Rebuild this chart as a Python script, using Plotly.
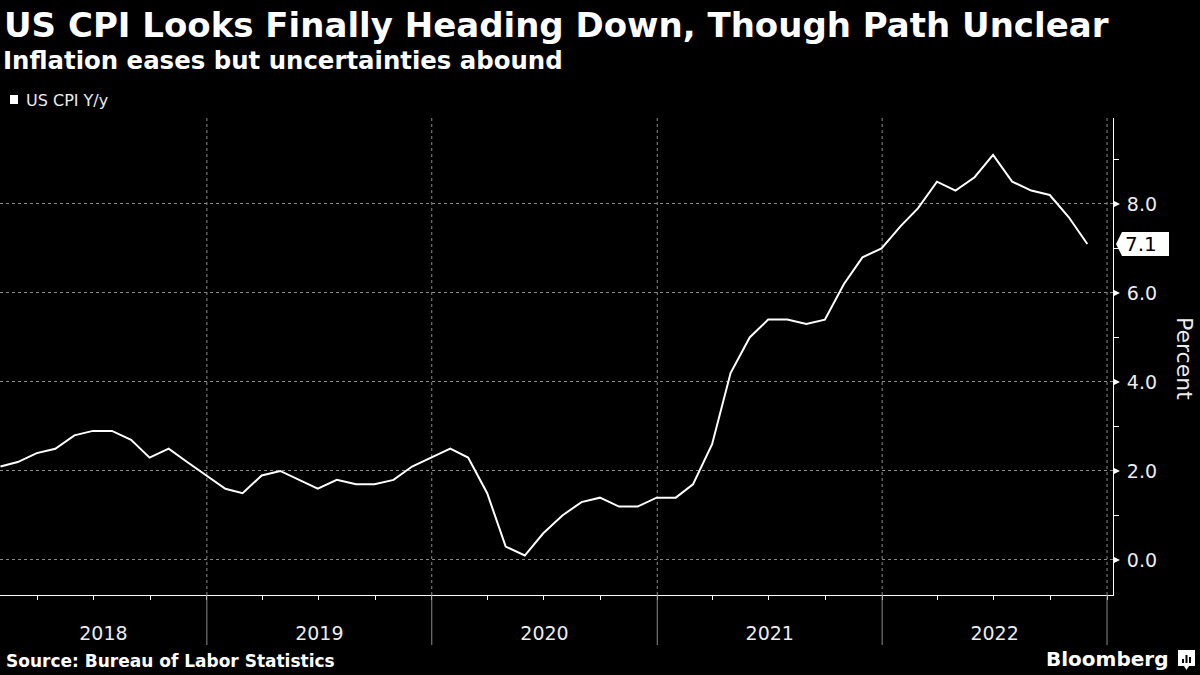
import pandas as pd
import plotly.graph_objects as go

# ---- data ----
months = pd.date_range("2018-01-31", "2022-11-30", freq="ME")
cpi_yoy = [
    2.1, 2.2, 2.4, 2.5, 2.8, 2.9, 2.9, 2.7, 2.3, 2.5, 2.2, 1.9,   # 2018
    1.6, 1.5, 1.9, 2.0, 1.8, 1.6, 1.8, 1.7, 1.7, 1.8, 2.1, 2.3,   # 2019
    2.5, 2.3, 1.5, 0.3, 0.1, 0.6, 1.0, 1.3, 1.4, 1.2, 1.2, 1.4,   # 2020
    1.4, 1.7, 2.6, 4.2, 5.0, 5.4, 5.4, 5.3, 5.4, 6.2, 6.8, 7.0,   # 2021
    7.5, 7.9, 8.5, 8.3, 8.6, 9.1, 8.5, 8.3, 8.2, 7.7, 7.1,        # 2022
]
years = ["2018", "2019", "2020", "2021", "2022"]
year_starts = ["2019-01-01", "2020-01-01", "2021-01-01", "2022-01-01", "2023-01-01"]
quarter_starts = [d.strftime("%Y-%m-%d") for d in pd.date_range("2018-04-01", "2023-01-01", freq="QS")]
y_major = [0, 2, 4, 6, 8]
y_major_text = ["0.0", "2.0", "4.0", "6.0", "8.0"]
y_minor = [1, 3, 5, 7, 9]

title = "US CPI Looks Finally Heading Down, Though Path Unclear"
subtitle = "Inflation eases but uncertainties abound"
series_name = "US CPI Y/y"
source = "Source: Bureau of Labor Statistics"

# ---- layout geometry ----
W, H = 1200, 675
ML, MR, MT, MB = 0, 87, 118, 80
PW, PH = W - ML - MR, H - MT - MB
X_RANGE = ["2018-01-30 06:00", "2023-01-10 16:00"]
Y_RANGE = [-0.787, 9.93]
Y_PX = PH / (Y_RANGE[1] - Y_RANGE[0])  # pixels per percent point


def pyp(p):  # pixel y -> paper y
    return (H - MB - p) / PH


def pxp(p):  # pixel x -> paper x
    return (p - ML) / PW


# year labels centred in the visible part of each year
x0 = pd.Timestamp(X_RANGE[0])
year_mids = []
for i, y in enumerate(years):
    a = max(pd.Timestamp(f"{y}-01-01"), x0)
    b = pd.Timestamp(f"{int(y) + 1}-01-01")
    year_mids.append((a + (b - a) / 2).strftime("%Y-%m-%d %H:%M"))

TICK_FONT = "DejaVu Sans"
TXT = "#ececec"

fig = go.Figure()
fig.add_trace(go.Scatter(
    x=months, y=cpi_yoy, mode="lines", name=series_name,
    line=dict(color="white", width=2), showlegend=False, hoverinfo="skip",
))

shapes = []
for ys in year_starts:
    shapes.append(dict(type="line", xref="x", yref="paper", x0=ys, x1=ys, y0=0, y1=1,
                       line=dict(color="#8a8a8a", width=1, dash="dot"), layer="below"))
    shapes.append(dict(type="line", xref="x", yref="paper", x0=ys, x1=ys, y0=pyp(645), y1=0,
                       line=dict(color="#8a8a8a", width=1)))

# triangular major tick markers on the right axis
ax_x = pxp(ML + PW)
for v in y_major:
    h = 3.5 / Y_PX
    shapes.append(dict(type="path", xref="paper", yref="y",
                       path=f"M {ax_x},{v - h} L {pxp(ML + PW + 7)},{v} L {ax_x},{v + h} Z",
                       fillcolor="white", line=dict(width=0)))

# last value label (arrow-shaped box)
last = cpi_yoy[-1]
hh = 12 / Y_PX
tip, bl, br = pxp(1116), pxp(1122), pxp(1169)
shapes.append(dict(type="path", xref="paper", yref="y",
                   path=(f"M {tip},{last} L {bl},{last + hh} L {br},{last + hh} "
                         f"L {br},{last - hh} L {bl},{last - hh} Z"),
                   fillcolor="white", line=dict(width=0)))

# legend square
shapes.append(dict(type="rect", xref="paper", yref="paper", x0=pxp(10), x1=pxp(18),
                   y0=pyp(104), y1=pyp(95), fillcolor="white", line=dict(width=0)))
# Bloomberg icon
shapes.append(dict(type="rect", xref="paper", yref="paper", x0=pxp(1178), x1=pxp(1195),
                   y0=pyp(666), y1=pyp(650), fillcolor="white", line=dict(width=0)))
shapes.append(dict(type="path", xref="paper", yref="paper",
                   path=f"M {pxp(1184)},{pyp(666)} L {pxp(1186.5)},{pyp(670)} L {pxp(1189)},{pyp(666)} Z",
                   fillcolor="white", line=dict(width=0)))
for bx, top in [(1182, 659), (1185.5, 655), (1189, 657)]:
    shapes.append(dict(type="rect", xref="paper", yref="paper", x0=pxp(bx), x1=pxp(bx + 2),
                       y0=pyp(663), y1=pyp(top), fillcolor="black", line=dict(width=0)))

annotations = [
    dict(text=f"<b>{title}</b>", xref="paper", yref="paper", x=pxp(2), y=pyp(25),
         xanchor="left", yanchor="middle", showarrow=False,
         font=dict(family="DejaVu Sans", size=34, color="white")),
    dict(text=f"<b>{subtitle}</b>", xref="paper", yref="paper", x=pxp(1), y=pyp(60),
         xanchor="left", yanchor="middle", showarrow=False,
         font=dict(family="DejaVu Sans", size=24.4, color="white")),
    dict(text=series_name, xref="paper", yref="paper", x=pxp(24), y=pyp(101),
         xanchor="left", yanchor="middle", showarrow=False,
         font=dict(family=TICK_FONT, size=16, color=TXT)),
    dict(text=f"<b>{source}</b>", xref="paper", yref="paper", x=pxp(4), y=pyp(661),
         xanchor="left", yanchor="middle", showarrow=False,
         font=dict(family="DejaVu Sans", size=17, color="white")),
    dict(text="<b>Bloomberg</b>", xref="paper", yref="paper", x=pxp(1170), y=pyp(659),
         xanchor="right", yanchor="middle", showarrow=False,
         font=dict(family="DejaVu Sans", size=20, color="white")),
    dict(text="Percent", xref="paper", yref="paper", x=pxp(1185), y=pyp(358),
         xanchor="center", yanchor="middle", textangle=90, showarrow=False,
         font=dict(family=TICK_FONT, size=22, color=TXT)),
    dict(text=f"{last:.1f}", xref="paper", yref="y", x=pxp(1123), y=last,
         xanchor="left", yanchor="middle", showarrow=False,
         font=dict(family=TICK_FONT, size=20, color="black")),
]

fig.update_layout(
    width=W, height=H,
    margin=dict(l=ML, r=MR, t=MT, b=MB, pad=0),
    paper_bgcolor="black", plot_bgcolor="black",
    shapes=shapes, annotations=annotations,
    showlegend=False,
    xaxis=dict(
        type="date", range=X_RANGE, showgrid=False, zeroline=False,
        showline=True, linecolor="white", linewidth=1,
        tickmode="array", tickvals=year_mids, ticktext=years, ticks="",
        ticklabelstandoff=21,
        tickfont=dict(family=TICK_FONT, size=19, color=TXT),
        minor=dict(tickmode="array", tickvals=quarter_starts, ticks="outside",
                   ticklen=4, tickcolor="white", tickwidth=1, showgrid=False),
    ),
    yaxis=dict(
        side="right", range=Y_RANGE, zeroline=False,
        showline=True, linecolor="white", linewidth=1,
        tickmode="array", tickvals=y_major, ticktext=y_major_text, ticks="",
        ticklabelstandoff=9,
        tickfont=dict(family=TICK_FONT, size=19, color=TXT),
        showgrid=True, gridcolor="#8a8a8a", griddash="dot", gridwidth=1,
        minor=dict(tickmode="array", tickvals=y_minor, ticks="outside",
                   ticklen=5, tickcolor="white", tickwidth=1, showgrid=False),
    ),
)

fig.write_html(
    "out.html",
    config={"displayModeBar": False},
    post_script="document.body.style.margin='0';document.body.style.overflow='hidden';"
                "document.body.style.background='black';",
)
